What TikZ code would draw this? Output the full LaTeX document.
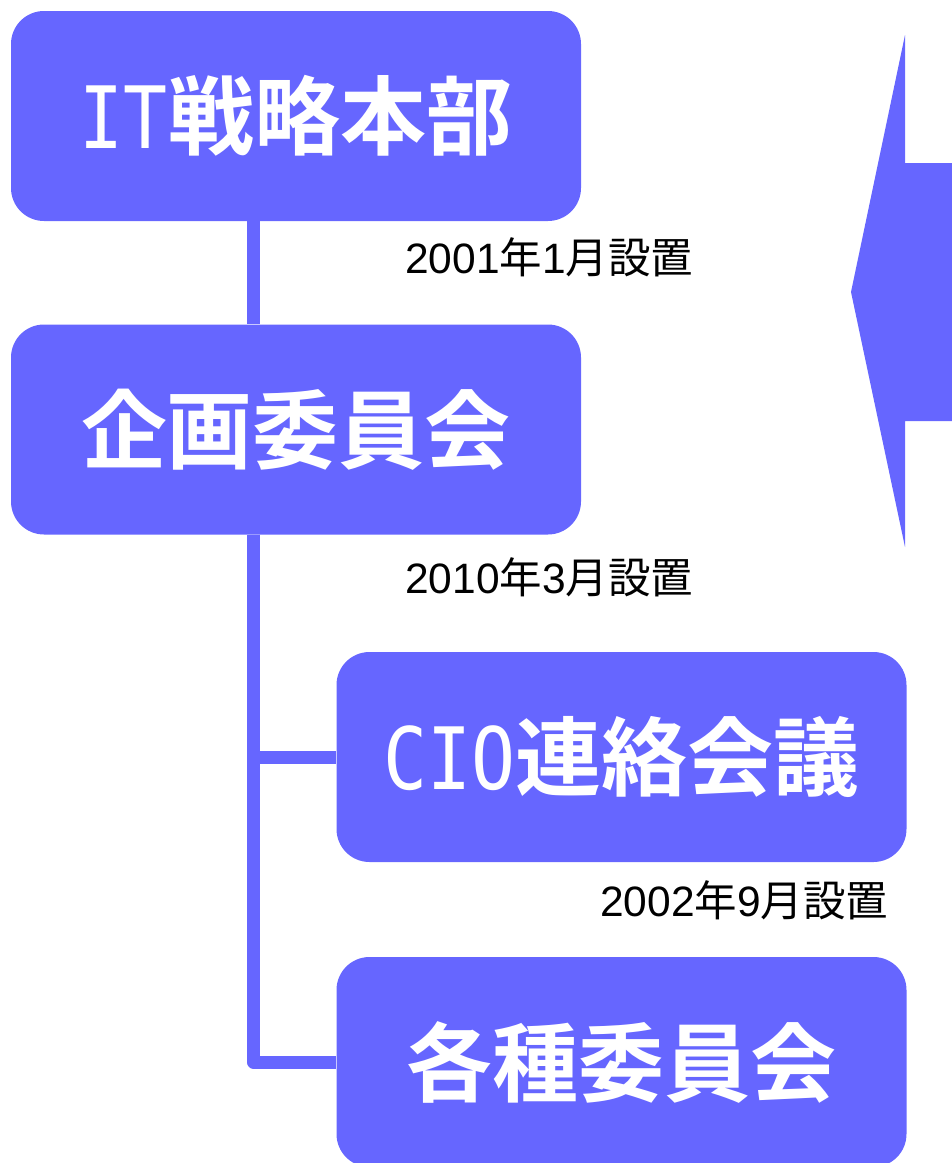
\documentclass[tikz,border=0pt]{standalone}
\usepackage{fontspec}
\newfontfamily\jpfont{Noto Sans CJK JP}
\newfontfamily\jpbold{Noto Sans CJK JP}[UprightFont=* Bold]
\newfontfamily\latinmono{DejaVu Sans Mono}[FakeStretch=0.85]
\newfontfamily\arialfont{Liberation Sans}
\definecolor{boxblue}{HTML}{6666FF}
\tikzset{
  orgbox/.style={fill=boxblue, draw=none, rounded corners=33pt,
    minimum width=570pt, minimum height=210pt, inner sep=0pt,
    text=white, font=\jpbold\fontsize{86}{100}\selectfont},
  datelabel/.style={anchor=west, inner sep=0pt, text=black,
    font=\fontsize{42.5}{50}\selectfont},
  linkline/.style={draw=boxblue, line width=13pt, line join=round}
}
\newcommand{\dt}[2]{{\arialfont #1}{\jpfont 年}{\arialfont #2}{\jpfont 月設置}}
\begin{document}
\begin{tikzpicture}[x=1pt,y=-1pt]
\useasboundingbox (0,0) rectangle (952,1163);
% big arrow on the right
\fill[boxblue] (952,163) -- (905,163) -- (905,35) -- (851,292) -- (905,547) -- (905,421) -- (952,421) -- cycle;
% boxes
\node[orgbox] (b1) at (296,116) {{\latinmono IT}戦略本部};
\node[orgbox] (b2) at (296,429.5) {企画委員会};
\node[orgbox] (b3) at (621.5,757) {{\latinmono CIO}連絡会議};
\node[orgbox] (b4) at (621.5,1062) {各種委員会};
\coordinate (spine) at (253.5,0);
% connectors
\draw[linkline] (b1.south -| spine) -- (b2.north -| spine);
\draw[linkline] (b2.south -| spine) |- (b3.west);
\draw[linkline] (b2.south -| spine) |- (b4.west);
% labels
\node[datelabel] (l1) at (405,257) {\dt{2001}{1}};
\node[datelabel] (l2) at (405,577) {\dt{2010}{3}};
\node[datelabel] (l3) at (600,900) {\dt{2002}{9}};
\end{tikzpicture}
\end{document}
